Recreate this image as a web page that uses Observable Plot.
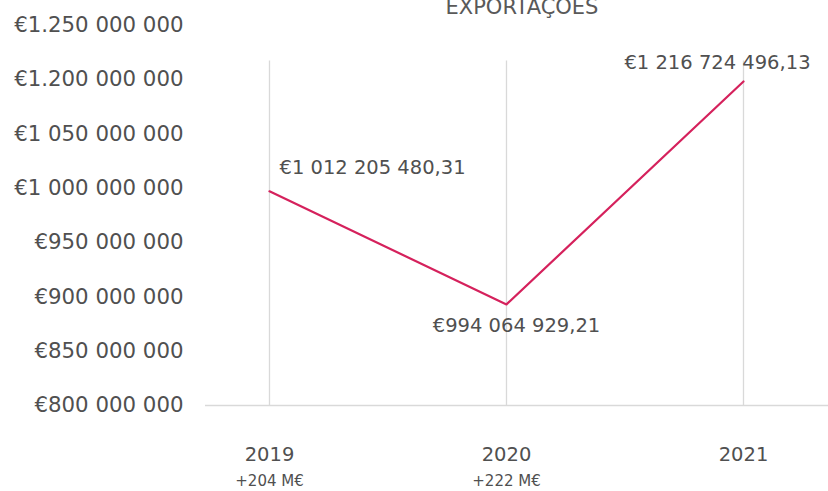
<!DOCTYPE html>
<html>
<head>
<meta charset="utf-8">
<script src="https://cdn.jsdelivr.net/npm/d3@7"></script>
<script src="https://cdn.jsdelivr.net/npm/@observablehq/plot@0.6"></script>
<style>
  html, body { margin: 0; padding: 0; background: #fff; }
  #chart svg { display: block; overflow: visible; }
</style>
</head>
<body>
<div id="chart"></div>
<script>
// Chart title
const title = "EXPORTAÇÕES";
// Categories
const years = ["2019", "2020", "2021"];
// Position of each point on the y scale (as drawn in the picture)
const values = [997e6, 893e6, 1098e6];
// Data labels as printed on the chart
const valueLabels = ["€1 012 205 480,31", "€994 064 929,21", "€1 216 724 496,13"];
// Sub labels under the years
const subLabels = ["+204 M€", "+222 M€", ""];
// Y tick positions and their printed labels
const yTicks = [800e6, 850e6, 900e6, 950e6, 1000e6, 1050e6, 1100e6, 1150e6];
const yTickLabels = ["€800 000 000", "€850 000 000", "€900 000 000", "€950 000 000",
  "€1 000 000 000", "€1 050 000 000", "€1.200 000 000", "€1.250 000 000"];
// Top of vertical grid lines
const gridTop = 1117e6;

const data = years.map((y, i) => ({year: y, value: values[i], label: valueLabels[i], sub: subLabels[i]}));

const lineColor = "#d5215c";
const textColor = "#505050";
const gridColor = "#d9d9d9";

const chart = Plot.plot({
  width: 828,
  height: 491,
  marginLeft: 205,
  marginRight: 0,
  marginTop: 24.5,
  marginBottom: 86,
  style: {fontFamily: "'DejaVu Sans', sans-serif", color: textColor, background: "#fff"},
  x: {type: "point", domain: years, insetLeft: 63, insetRight: 85, padding: 0, axis: null},
  y: {domain: [800e6, 1150e6], axis: null},
  marks: [
    Plot.ruleX(data, {x: "year", y1: 800e6, y2: gridTop, stroke: gridColor, strokeWidth: 1.3}),
    Plot.ruleY([800e6], {stroke: gridColor, strokeWidth: 1.5}),
    Plot.axisY(yTicks, {
      tickSize: 0, tickPadding: 22,
      tickFormat: (d) => yTickLabels[yTicks.indexOf(d)],
      fontSize: 21.3, fill: textColor, label: null
    }),
    Plot.lineY(data, {x: "year", y: "value", stroke: lineColor, strokeWidth: 2.2}),
    Plot.text(data.filter((d, i) => i === 0), {x: "year", y: "value", text: "label", textAnchor: "start", dx: 10, dy: -24, fontSize: 19.5, fill: textColor}),
    Plot.text(data.filter((d, i) => i === 1), {x: "year", y: "value", text: "label", dx: 10, dy: 21, fontSize: 19.5, fill: textColor}),
    Plot.text(data.filter((d, i) => i === 2), {x: "year", y: "value", text: "label", dx: -26, dy: -19, fontSize: 19.5, fill: textColor}),
    Plot.text(data, {x: "year", text: "year", frameAnchor: "bottom", dy: 55, fontSize: 19.5, fill: textColor}),
    Plot.text(data, {x: "year", text: "sub", frameAnchor: "bottom", dy: 80, fontSize: 15, fill: textColor}),
    Plot.text([title], {frameAnchor: "top", lineAnchor: "bottom", dx: 5, dy: -11.5, fontSize: 21, fill: "#595959"})
  ]
});
document.getElementById("chart").appendChild(chart);
</script>
</body>
</html>
